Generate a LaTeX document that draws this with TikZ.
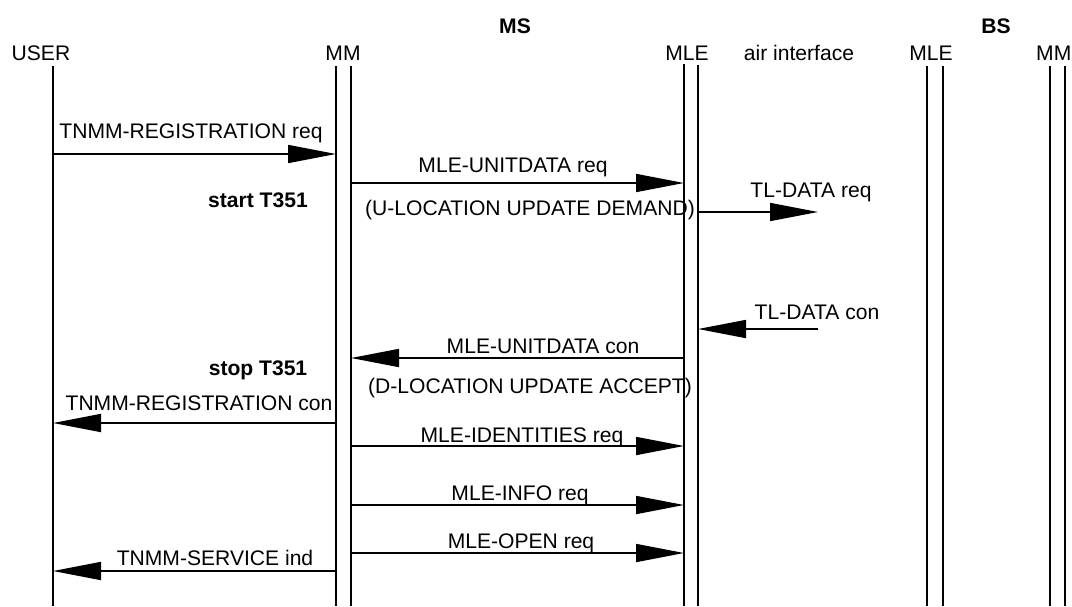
\documentclass[tikz,border=0pt]{standalone}
\usepackage{fontspec}
\setmainfont{Liberation Sans}
\usepackage{tikz}
\usetikzlibrary{arrows.meta, positioning}

\begin{document}
\begin{tikzpicture}[
  life/.style={line width=1.2pt},
  msg/.style={-{Triangle[length=1.2cm, width=0.45cm]}, line width=1.2pt},
  lbl/.style={anchor=base, inner sep=0pt, font=\fontsize{15}{18}\selectfont},
  hdr/.style={lbl, font=\fontsize{15}{18}\selectfont\bfseries}
]
\useasboundingbox (0,0) rectangle (26.8,-15.15);

%% ---- Lifeline tops ----
\coordinate (user)  at ( 1.325, -1.65);
\coordinate (mmA)   at ( 8.400, -1.65);
\coordinate (mmB)   at ( 8.775, -1.65);
\coordinate (mleA)  at (17.100, -1.60);
\coordinate (mleB)  at (17.450, -1.62);
\coordinate (bmleA) at (23.175, -1.65);
\coordinate (bmleB) at (23.575, -1.65);
\coordinate (bmmA)  at (26.250, -1.65);
\coordinate (bmmB)  at (26.625, -1.65);
\coordinate (bottom) at (0, -15.15);

%% ---- Message rows ----
\coordinate (r1)  at (0,  -3.850);
\coordinate (r2)  at (0,  -4.575);
\coordinate (r3)  at (0,  -5.300);
\coordinate (r4)  at (0,  -8.225);
\coordinate (r5)  at (0,  -8.950);
\coordinate (r6)  at (0, -10.575);
\coordinate (r7)  at (0, -11.150);
\coordinate (r8)  at (0, -12.625);
\coordinate (r9)  at (0, -13.825);
\coordinate (r10) at (0, -14.275);
% free end of the TL-DATA primitives, on the air interface
\coordinate (air) at (20.45, 0);

%% ---- Headers ----
\node[hdr] (ms)     at (12.875, -0.825) {MS};
\node[hdr] (bs)     at (24.900, -0.825) {BS};
\node[lbl] (userl)  at ( 1.025, -1.5) {USER};
\node[lbl] (mml)    at ( 8.575, -1.5) {MM};
\node[lbl] (mlel)   at (17.175, -1.5) {MLE};
\node[lbl] (airl)   at (19.975, -1.5) {air interface};
\node[lbl] (bmlel)  at (23.275, -1.5) {MLE};
% kept inside the right edge
\node[lbl, anchor=base east] (bmml) at (26.79, -1.5) {MM};

%% ---- Lifelines ----
\foreach \l in {user, mmA, mmB, mleA, mleB, bmleA, bmleB, bmmA, bmmB}
  \draw[life] (\l) -- (\l |- bottom);

%% ---- Registration request ----
\draw[msg] (user |- r1) -- (mmA |- r1);
\node[lbl] (regreq) at (4.775, -3.45) {TNMM-REGISTRATION req};
\draw[msg] (mmB |- r2) -- (mleA |- r2);
\node[lbl] (udreq) at (12.825, -4.3) {MLE-UNITDATA req};
\node[lbl] (udreqpdu) at (13.25, -5.375) {(U-LOCATION UPDATE DEMAND)};
\draw[msg] (mleB |- r3) -- (air |- r3);
\node[lbl] (tlreq) at (20.275, -4.925) {TL-DATA req};
\node[hdr] (start) at (6.45, -5.175) {start T351};

%% ---- Confirmations ----
\draw[msg] (air |- r4) -- (mleB |- r4);
\node[lbl] (tlcon) at (20.425, -7.975) {TL-DATA con};
\draw[msg] (mleA |- r5) -- (mmB |- r5);
\node[lbl] (udcon) at (13.575, -8.825) {MLE-UNITDATA con};
\node[lbl] (udconpdu) at (13.25, -9.825) {(D-LOCATION UPDATE ACCEPT)};
\node[hdr] (stop) at (6.45, -9.375) {stop T351};
\draw[msg] (mmA |- r6) -- (user |- r6);
\node[lbl] (regcon) at (4.975, -10.25) {TNMM-REGISTRATION con};

%% ---- Follow-up primitives ----
\draw[msg] (mmB |- r7) -- (mleA |- r7);
\node[lbl] (idreq) at (13.05, -11.05) {MLE-IDENTITIES req};
\draw[msg] (mmB |- r8) -- (mleA |- r8);
\node[lbl] (inforeq) at (13.0, -12.5) {MLE-INFO req};
\draw[msg] (mmB |- r9) -- (mleA |- r9);
\node[lbl] (openreq) at (13.025, -13.7) {MLE-OPEN req};
\draw[msg] (mmA |- r10) -- (user |- r10);
\node[lbl] (servind) at (5.375, -14.125) {TNMM-SERVICE ind};

\end{tikzpicture}
\end{document}
